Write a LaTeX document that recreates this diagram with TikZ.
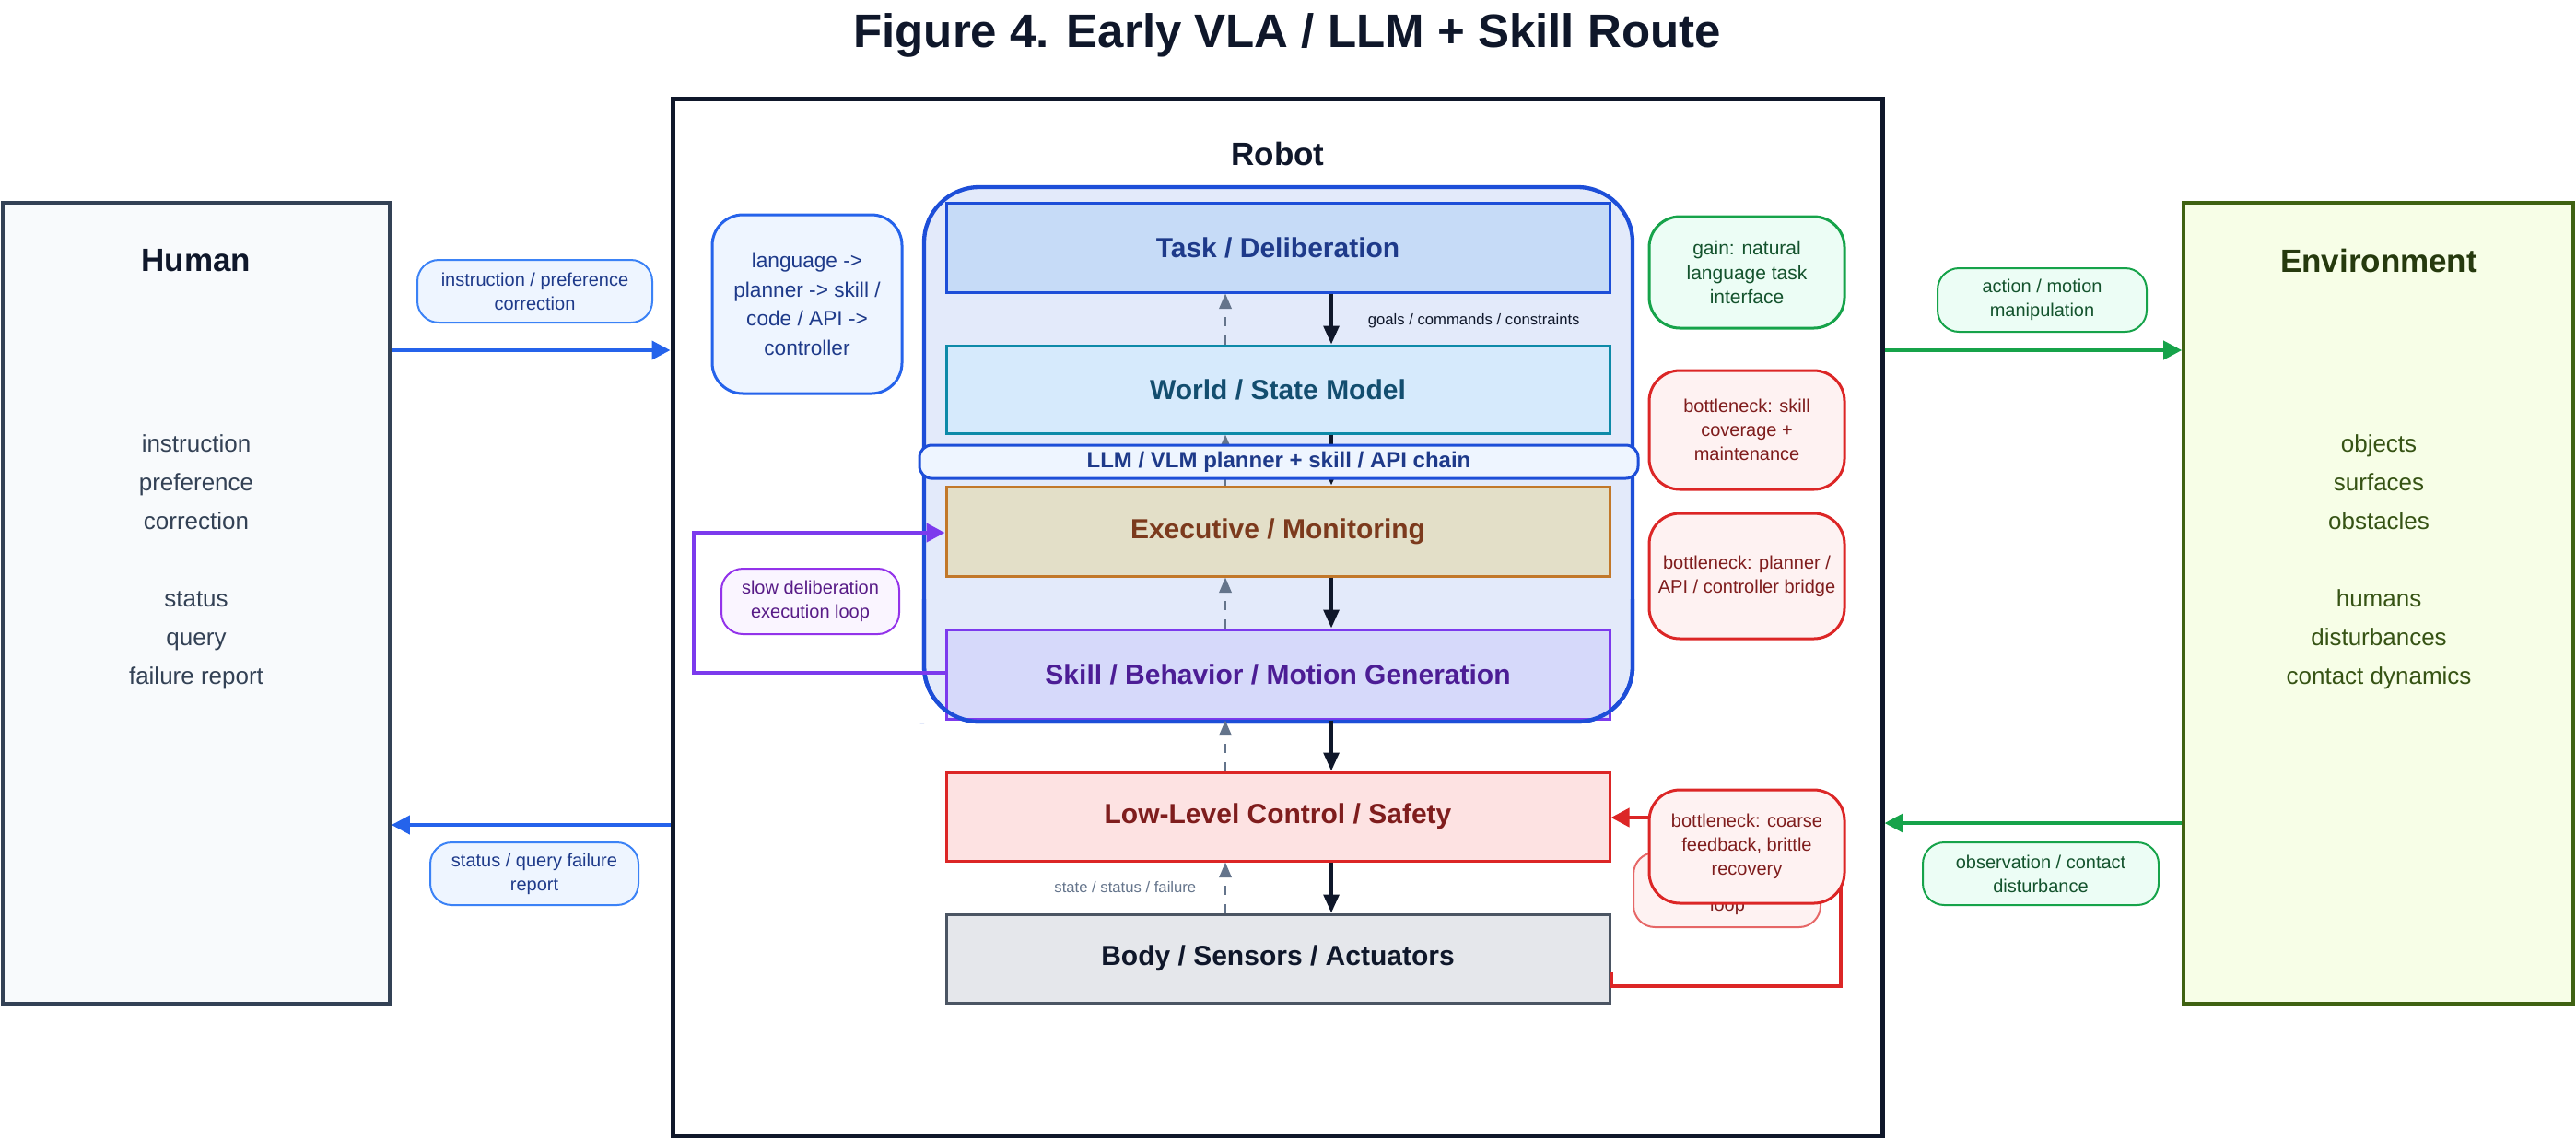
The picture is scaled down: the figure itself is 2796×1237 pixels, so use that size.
\documentclass[tikz,border=0pt]{standalone}
\usepackage{fontspec}
\setmainfont{Liberation Sans}
\usetikzlibrary{fit,arrows.meta}
\definecolor{navy}{HTML}{0F172A}
\definecolor{slate}{HTML}{64748B}
\definecolor{dblue}{HTML}{1E3A8A}
\definecolor{bblue}{HTML}{1D4ED8}
\definecolor{lblue}{HTML}{2563EB}
\definecolor{rred}{HTML}{DC2626}
\definecolor{dred}{HTML}{7F1D1D}
\definecolor{ggreen}{HTML}{16A34A}
\definecolor{dgreen}{HTML}{14532D}
\definecolor{ppl}{HTML}{7C3AED}
\definecolor{hborder}{HTML}{334155}
\definecolor{hfill}{HTML}{F8FAFC}
\definecolor{eborder}{HTML}{3F6212}
\definecolor{efill}{HTML}{F7FEE7}
\definecolor{etext}{HTML}{365314}
\definecolor{htext}{HTML}{334155}
\definecolor{contfill}{HTML}{E3EAFA}
\definecolor{taskfill}{HTML}{C6DBF7}
\definecolor{worldfill}{HTML}{D6EAFC}
\definecolor{worldbd}{HTML}{0E8AA8}
\definecolor{worldtx}{HTML}{134E6F}
\definecolor{execfill}{HTML}{E3DFC8}
\definecolor{execbd}{HTML}{C2782A}
\definecolor{exectx}{HTML}{7C3A1D}
\definecolor{skillfill}{HTML}{D5D8FA}
\definecolor{skilltx}{HTML}{4C1D95}
\definecolor{lowfill}{HTML}{FDE2E2}
\definecolor{bodyfill}{HTML}{E5E7EB}
\definecolor{bodybd}{HTML}{4B5563}
\definecolor{notebfill}{HTML}{EEF5FF}
\definecolor{noterfill}{HTML}{FEF2F2}
\definecolor{notegfill}{HTML}{ECFDF5}
\definecolor{notepfill}{HTML}{FAF5FF}
\definecolor{ptext}{HTML}{581C87}
\definecolor{pbd}{HTML}{9333EA}
\definecolor{mblue}{HTML}{3B82F6}
\tikzset{
 fb/.style={fit={#1},inner sep=0pt},
 lay/.style={draw,line width=0.9pt},
 laytx/.style={font=\fontsize{9}{11}\selectfont\bfseries},
 note/.style={draw,rounded corners=7pt,line width=0.6pt},
 notetx/.style={align=center,font=\fontsize{6}{7.8}\selectfont},
 bignote/.style={note,line width=0.9pt,rounded corners=10pt},
 solidarr/.style={draw=navy,line width=1.2pt,-{Triangle[length=6pt,width=5pt]}},
 dasharr/.style={draw=slate,line width=0.8pt,dashed,-{Triangle[length=5pt,width=4pt]}},
 side/.style={align=center,font=\fontsize{7.8}{12.6}\selectfont},
}
\begin{document}
\begin{tikzpicture}[x=0.3pt,y=-0.3pt]
\useasboundingbox (0,0) rectangle (2796,1237);
\node[font=\fontsize{15.3}{17}\selectfont\bfseries,text=navy] (title) at (1397,38) {Figure 4. Early VLA / LLM + Skill Route};
% main boxes
\node[fb={(730,107)(2043,1232)},draw=navy,line width=1.5pt] (robot) {};
\node[font=\fontsize{10.5}{12}\selectfont\bfseries,text=navy] (robotlbl) at (1387,167) {Robot};
\node[fb={(3,220)(423,1089)},draw=hborder,fill=hfill,line width=1.1pt] (human) {};
\node[font=\fontsize{10.5}{12}\selectfont\bfseries,text=navy] (humanlbl) at (213,283) {Human};
\node[side,text=htext] (humantx) at (213,610) {instruction\\preference\\correction\\[12.6pt]status\\query\\failure report};
\node[fb={(2370,220)(2793,1089)},draw=eborder,fill=efill,line width=1.1pt] (env) {};
\node[font=\fontsize{10.5}{12}\selectfont\bfseries,text=etext!70!black] (envlbl) at (2582,283) {Environment};
\node[side,text=etext] (envtx) at (2582,610) {objects\\surfaces\\obstacles\\[12.6pt]humans\\disturbances\\contact dynamics};
% container
\node[fb={(1003,203)(1772,783)},draw=bblue,fill=contfill,line width=1.3pt,rounded corners=18pt] (cont) {};
% layers
\node[lay,fb={(1027,220)(1747,317)},draw=bblue,fill=taskfill] (task) {};
\node[laytx,text=dblue] at (task.center) {Task / Deliberation};
\node[lay,fb={(1027,375)(1747,470)},draw=worldbd,fill=worldfill] (world) {};
\node[laytx,text=worldtx] at (world.center) {World / State Model};
\node[lay,fb={(1027,528)(1747,625)},draw=execbd,fill=execfill] (exec) {};
\node[laytx,text=exectx] at (exec.center) {Executive / Monitoring};
\node[lay,fb={(1027,683)(1747,780)},draw=ppl,fill=skillfill,fill opacity=0.9] (skill) {};
\draw[draw=bblue,line width=1.3pt,rounded corners=18pt] (cont.south west) ++(0,0) -- ++(0,-0.1) (1003,650) -- (1003,783) -- (1772,783) -- (1772,650);
\node[laytx,text=skilltx] at (skill.center) {Skill / Behavior / Motion Generation};
\node[lay,fb={(1027,838)(1747,934)},draw=rred,fill=lowfill] (low) {};
\node[laytx,text=dred] at (low.center) {Low-Level Control / Safety};
\node[lay,fb={(1027,992)(1747,1088)},draw=bodybd,fill=bodyfill] (body) {};
\node[laytx,text=navy] at (body.center) {Body / Sensors / Actuators};
% arrows
\foreach \a/\b in {task/world,world/exec,exec/skill,skill/low,low/body}{
 \draw[solidarr] (\a.south -| 1445,0) -- (\b.north -| 1445,0);
 \draw[dasharr] (\b.north -| 1330,0) -- (\a.south -| 1330,0);
}
\node[fb={(998,483)(1778,519)},draw=bblue,fill=notebfill,line width=0.9pt,rounded corners=4pt] (band) {};
\node[font=\fontsize{7.2}{8}\selectfont\bfseries,text=dblue] at (band.center) {LLM / VLM planner + skill / API chain};
\node[anchor=west,font=\fontsize{5}{6}\selectfont,text=navy] (goals) at (1473,348) {goals / commands / constraints};
\node[anchor=east,font=\fontsize{5}{6}\selectfont,text=slate] (state) at (1310,963) {state / status / failure};
% left notes
\node[bignote,fb={(773,233)(979,427)},draw=lblue,fill=notebfill] (lang) {};
\node[notetx,text=dblue,font=\fontsize{6.8}{9.5}\selectfont] at (lang.center) {language ->\\planner -> skill /\\code / API ->\\controller};
\node[note,fb={(783,617)(976,688)},draw=pbd,fill=notepfill] (slow) {};
\node[notetx,text=ptext] at (slow.center) {slow deliberation\\execution loop};
\coordinate (pl1) at (753,730);
\coordinate (pl2) at (753,578);
\draw[draw=ppl,line width=1.3pt,-{Triangle[length=6pt,width=6pt]}] (skill.west |- 0,730) -- (pl1) -- (pl2) -- (exec.west |- 0,578);
% right notes
\node[bignote,fb={(1790,235)(2002,356)},draw=ggreen,fill=notegfill] (gain) {};
\node[notetx,text=dgreen,font=\fontsize{6.3}{8}\selectfont] at (gain.center) {gain: natural\\language task\\interface};
\node[bignote,fb={(1790,402)(2002,531)},draw=rred,fill=noterfill] (bn1) {};
\node[notetx,text=dred] at (bn1.center) {bottleneck: skill\\coverage +\\maintenance};
\node[bignote,fb={(1790,557)(2002,693)},draw=rred,fill=noterfill] (bn2) {};
\node[notetx,text=dred] at (bn2.center) {bottleneck: planner /\\API / controller bridge};
\node[note,fb={(1773,925)(1976,1006)},draw=rred!70,fill=noterfill] (loopbox) {};
\node[font=\fontsize{6}{7}\selectfont,text=dred] (looptx) at (1875,983) {loop};
\coordinate (rc1) at (1998,1070);
\draw[draw=rred,line width=1.2pt] (1998,950) -- (rc1) -- (body.east |- 0,1070) -- ++(0,-15);
\node[bignote,fb={(1790,857)(2002,980)},draw=rred,fill=noterfill] (bn3) {};
\node[notetx,text=dred] at (bn3.center) {bottleneck: coarse\\feedback, brittle\\recovery};
\draw[draw=rred,line width=1.2pt,-{Triangle[length=6pt,width=6pt]}] (bn3.west |- 0,887) -- (low.east |- 0,887);
% human/env flows
\draw[draw=lblue,line width=1.2pt,-{Triangle[length=6pt,width=6pt]}] (human.east |- 0,380) -- (robot.west |- 0,380);
\draw[draw=lblue,line width=1.2pt,-{Triangle[length=6pt,width=6pt]}] (robot.west |- 0,895) -- (human.east |- 0,895);
\node[note,fb={(453,282)(708,350)},draw=mblue,fill=notebfill] (ilbl) {};
\node[notetx,text=dblue] at (ilbl.center) {instruction / preference\\correction};
\node[note,fb={(467,914)(693,982)},draw=mblue,fill=notebfill] (slbl) {};
\node[notetx,text=dblue] at (slbl.center) {status / query failure\\report};
\draw[draw=ggreen,line width=1.2pt,-{Triangle[length=6pt,width=6pt]}] (robot.east |- 0,380) -- (env.west |- 0,380);
\draw[draw=ggreen,line width=1.2pt,-{Triangle[length=6pt,width=6pt]}] (env.west |- 0,893) -- (robot.east |- 0,893);
\node[note,fb={(2103,291)(2330,360)},draw=ggreen,fill=notegfill] (albl) {};
\node[notetx,text=dgreen] at (albl.center) {action / motion\\manipulation};
\node[note,fb={(2087,914)(2343,982)},draw=ggreen,fill=notegfill] (olbl) {};
\node[notetx,text=dgreen] at (olbl.center) {observation / contact\\disturbance};
\end{tikzpicture}
\end{document}
